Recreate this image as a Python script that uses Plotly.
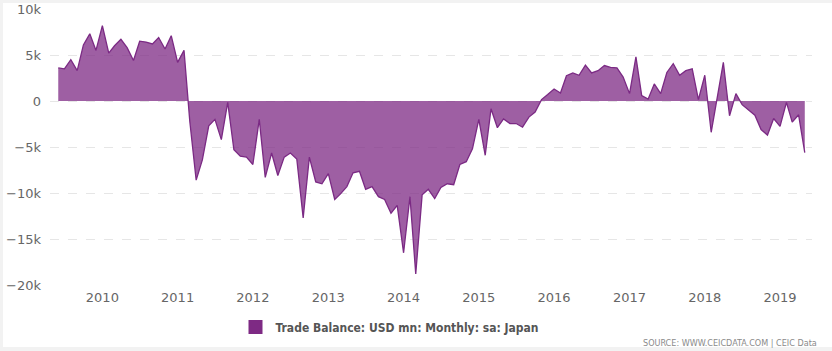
import plotly.graph_objects as go
import pandas as pd

# Monthly trade balance (USD mn), Jun 2009 - May 2019
start_month = "2009-06-01"
values_k = [
    # 2009 Jun-Dec
    3.6, 3.5, 4.5, 3.3, 6.1, 7.3, 5.5,
    # 2010
    8.2, 5.2, 6.0, 6.7, 5.8, 4.4, 6.5, 6.4, 6.2, 6.9, 5.65, 7.1,
    # 2011
    4.2, 5.5, -2.2, -8.6, -6.4, -2.7, -2.0, -4.2, -0.15, -5.3, -6.0, -6.1,
    # 2012
    -6.9, -2.0, -8.3, -5.65, -8.1, -6.1, -5.65, -6.3, -12.7, -6.1, -8.8, -9.0,
    # 2013
    -7.9, -10.7, -10.1, -9.3, -7.8, -7.65, -9.6, -9.3, -10.4, -10.7, -12.2, -11.35,
    # 2014
    -16.5, -10.4, -18.8, -10.2, -9.6, -10.6, -9.4, -9.0, -9.1, -6.9, -6.6, -5.2,
    # 2015
    -2.0, -5.9, -0.85, -2.9, -1.95, -2.45, -2.45, -2.85, -1.75, -1.2, 0.15, 0.7,
    # 2016
    1.3, 0.87, 2.75, 3.05, 2.8, 3.9, 3.05, 3.3, 3.85, 3.65, 3.6, 2.6,
    # 2017
    0.8, 4.8, 0.6, 0.2, 1.85, 0.8, 3.1, 4.05, 2.8, 3.3, 3.5, 0.15,
    # 2018
    2.8, -3.4, 0.4, 4.2, -1.6, 0.8, -0.4, -1.0, -1.55, -3.1, -3.7, -1.9,
    # 2019 Jan-May
    -2.75, -0.15, -2.3, -1.5, -5.6,
]
values = [v * 1000 for v in values_k]
dates = pd.date_range(start_month, periods=len(values), freq="MS")

year_labels = ["2010", "2011", "2012", "2013", "2014", "2015", "2016", "2017", "2018", "2019"]
y_tickvals = [10000, 5000, 0, -5000, -10000, -15000, -20000]
y_ticktext = ["10k", "5k", "0", "\u22125k", "\u221210k", "\u221215k", "\u221220k"]
series_name = "Trade Balance: USD mn: Monthly: sa: Japan"
source_text = "SOURCE: WWW.CEICDATA.COM | CEIC Data"

LINE = "#7b2a84"
FILL = "rgba(126,42,132,0.75)"

fig = go.Figure()
fig.add_trace(go.Scatter(
    x=dates, y=values, mode="lines", fill="tozeroy",
    line=dict(color=LINE, width=1.3), fillcolor=FILL,
    showlegend=False, hoverinfo="x+y",
))
fig.add_trace(go.Scatter(
    x=[None], y=[None], mode="markers", name="<b>" + series_name + "</b>",
    marker=dict(symbol="square", size=14, color="#7e2a84"),
    showlegend=True,
))

W, H = 832, 351
L, R, T, B = 50, 20, 9, 66
pw, ph = W - L - R, H - T - B

def px_x(p):
    return (p - L) / pw

def px_y(p):
    return (H - B - p) / ph

fig.add_shape(type="rect", xref="paper", yref="paper",
              x0=px_x(3), x1=px_x(832), y0=px_y(3), y1=px_y(347),
              fillcolor="white", line=dict(width=0), layer="below")

fig.add_annotation(text=source_text, xref="paper", yref="paper",
                   x=px_x(819), y=px_y(343), xanchor="right", yanchor="middle",
                   showarrow=False,
                   font=dict(size=9, color="#8a8a8a",
                             family="Liberation Sans Narrow, DejaVu Sans Condensed, Arial"))

fig.update_layout(
    width=W, height=H,
    margin=dict(l=L, r=R, t=T, b=B, pad=0, autoexpand=False),
    paper_bgcolor="#f2f2f2", plot_bgcolor="white",
    font=dict(family="DejaVu Sans, Arial", color="#666666"),
    legend=dict(orientation="h", x=px_x(390), y=px_y(327),
                xanchor="center", yanchor="middle",
                bgcolor="rgba(0,0,0,0)",
                font=dict(size=12, color="#555555",
                          family="DejaVu Sans Condensed, Arial"),
                itemwidth=30),
    xaxis=dict(
        type="date", range=["2009-04-22", "2019-06-05"],
        tickvals=[f"{y}-01-01" for y in year_labels], ticktext=year_labels,
        showgrid=False, zeroline=False, showline=False, ticks="",
        tickfont=dict(size=13, color="#666666"),
        ticklabelstandoff=3,
        fixedrange=True, automargin=False,
    ),
    yaxis=dict(
        range=[-20000, 10000], tickvals=y_tickvals, ticktext=y_ticktext,
        showgrid=True, gridcolor="#e6e6e6", griddash="dash", gridwidth=1,
        zeroline=False, showline=False, ticks="",
        tickfont=dict(size=13, color="#666666"),
        ticklabelstandoff=8, fixedrange=True, automargin=False,
    ),
)

fig.write_html("out.html")
